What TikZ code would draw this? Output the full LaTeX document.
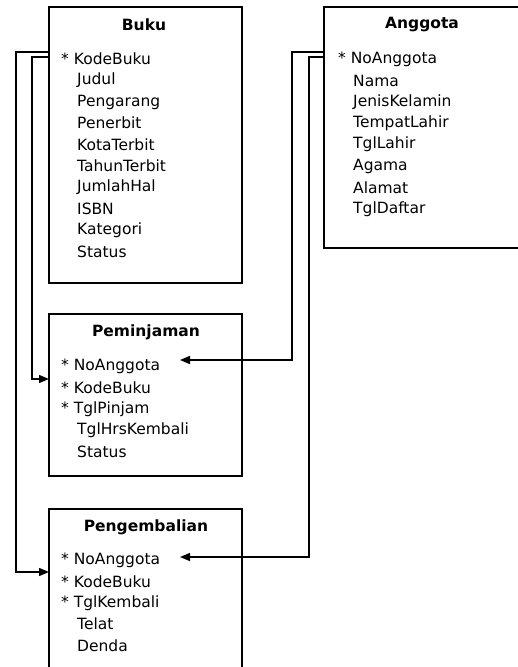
\documentclass[tikz,border=0pt]{standalone}
\usepackage{fontspec}
\setmainfont{DejaVu Sans}
\usetikzlibrary{arrows.meta}

\begin{document}
\begin{tikzpicture}[x=1pt, y=-1pt,
  tabel/.style={draw, line width=1.4pt, inner sep=0pt},
  judul/.style={font=\fontsize{15.5}{18}\selectfont\bfseries, inner sep=0pt},
  atribut/.style={anchor=west, font=\fontsize{15.5}{18}\selectfont, inner sep=0pt},
  relasi/.style={line width=1.4pt, -{Triangle[length=10pt, width=8pt]}}]
  \useasboundingbox (0,0) rectangle (518,667);
  \clip (0,0) rectangle (518,667);

  % Tabel Buku
  \node[tabel, minimum width=193pt, minimum height=276pt] (buku) at (145.5,145) {};
  \node[judul] (bukuT) at (144,25) {Buku};
  \node[atribut] (bk1) at (61,59) {*~KodeBuku};
  \node[atribut] (bk2) at (77,80.5) {Judul};
  \node[atribut] (bk3) at (77,102) {Pengarang};
  \node[atribut] (bk4) at (77,123) {Penerbit};
  \node[atribut] (bk5) at (77,144.5) {KotaTerbit};
  \node[atribut] (bk6) at (77,166) {TahunTerbit};
  \node[atribut] (bk7) at (77,187.5) {JumlahHal};
  \node[atribut] (bk8) at (77,209) {ISBN};
  \node[atribut] (bk9) at (77,230) {Kategori};
  \node[atribut] (bk10) at (77,251.5) {Status};

  % Tabel Anggota
  \node[tabel, minimum width=210pt, minimum height=241pt] (anggota) at (429,127.5) {};
  \node[judul] (anggotaT) at (422,25) {Anggota};
  \node[atribut] (ag1) at (338,59) {*~NoAnggota};
  \node[atribut] (ag2) at (353,80.5) {Nama};
  \node[atribut] (ag3) at (353,102) {JenisKelamin};
  \node[atribut] (ag4) at (353,123) {TempatLahir};
  \node[atribut] (ag5) at (353,144.5) {TglLahir};
  \node[atribut] (ag6) at (353,166) {Agama};
  \node[atribut] (ag7) at (353,187.5) {Alamat};
  \node[atribut] (ag8) at (353,209) {TglDaftar};

  % Tabel Peminjaman
  \node[tabel, minimum width=193pt, minimum height=162pt] (pinjam) at (145.5,395) {};
  \node[judul] (pinjamT) at (146,332) {Peminjaman};
  \node[atribut] (pm1) at (61,366) {*~NoAnggota};
  \node[atribut] (pm2) at (61,387.5) {*~KodeBuku};
  \node[atribut] (pm3) at (61,409) {*~TglPinjam};
  \node[atribut] (pm4) at (77,430) {TglHrsKembali};
  \node[atribut] (pm5) at (77,451.5) {Status};

  % Tabel Pengembalian
  \node[tabel, minimum width=193pt, minimum height=180pt] (kembali) at (145.5,599) {};
  \node[judul] (kembaliT) at (146,527) {Pengembalian};
  \node[atribut] (pg1) at (61,560) {*~NoAnggota};
  \node[atribut] (pg2) at (61,581.5) {*~KodeBuku};
  \node[atribut] (pg3) at (61,603) {*~TglKembali};
  \node[atribut] (pg4) at (77,624) {Telat};
  \node[atribut] (pg5) at (77,645.5) {Denda};

  % Titik ujung relasi
  \coordinate (bukuA) at (49,52);
  \coordinate (bukuB) at (49,57);
  \coordinate (anggotaA) at (324,52);
  \coordinate (anggotaB) at (324,57);
  \coordinate (pinjamBuku) at (49,379);
  \coordinate (kembaliBuku) at (49,572);
  \coordinate (pinjamAgt) at (180,360);
  \coordinate (kembaliAgt) at (180,557);

  % Relasi kunci tamu
  \draw[relasi] (bukuA) -- ++(-33,0) |- (kembaliBuku);
  \draw[relasi] (bukuB) -- ++(-17,0) |- (pinjamBuku);
  \draw[relasi] (anggotaA) -- ++(-32,0) |- (pinjamAgt);
  \draw[relasi] (anggotaB) -- ++(-15,0) |- (kembaliAgt);
\end{tikzpicture}
\end{document}
